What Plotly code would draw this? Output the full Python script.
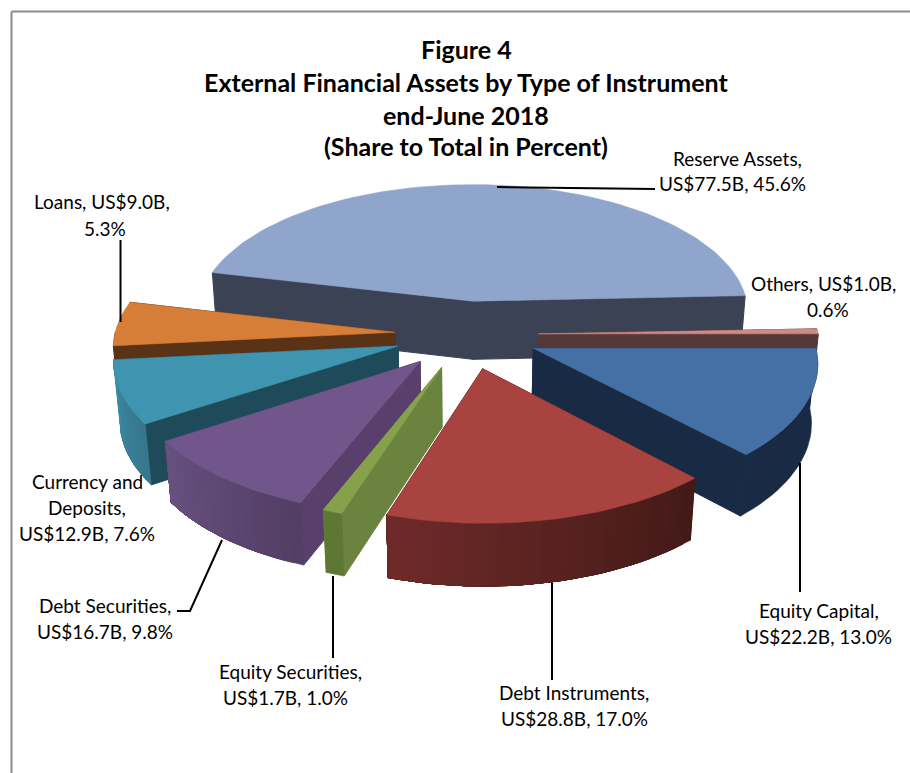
import numpy as np
import plotly.graph_objects as go

# Instrument shares, in drawing (clockwise) order starting from the east edge
names = ["Others", "Equity Capital", "Debt Instruments", "Equity Securities",
         "Debt Securities", "Currency and Deposits", "Loans", "Reserve Assets"]
usd_billions = [1.0, 22.2, 28.8, 1.7, 16.7, 12.9, 9.0, 77.5]
shares = [0.6, 13.0, 17.0, 1.0, 9.8, 7.6, 5.3, 45.6]

title_lines = ["Figure 4", "External Financial Assets by Type of Instrument",
               "end-June 2018", "(Share to Total in Percent)"]

top_colors = ["#D08A85", "#4470A6", "#A84340", "#85A24B", "#71568C", "#3F95AF", "#D67D38", "#8FA5CC"]
side_colors = ["#553838", "#192B44", "#4A1C1A", "#6A833F", "#583F6C", "#1F4A59", "#5A3316", "#3B4254"]
rim_start = ["#553838", "#192B44", "#431A18", "#5F7735", "#533E66", "#35778D", "#5A3316", "#3B4254"]
rim_end = ["#553838", "#192B44", "#6E2A28", "#5F7735", "#66507E", "#3F8CA5", "#5A3316", "#3B4254"]

# Back-to-front painting order (indices into the lists above)
paint_order = [7, 0, 1, 6, 5, 4, 3, 2]

# Projection of the exploded pie
CX, CY = 466.5, 334.5
RADIUS = 280.0
EXPLODE = 72.0
TILT = 0.476
FOCAL = 3000.0
THICK = 60.0
START_DEG = -2.16


def project(theta, r, mid, z):
    t, m = np.radians(theta), np.radians(mid)
    x = r * np.cos(t) + EXPLODE * np.cos(m)
    y = r * np.sin(t) + EXPLODE * np.sin(m)
    s = 1.0 / (1.0 - (y - 0.9 * z) / FOCAL)
    return CX + x * s, CY + (y * TILT + z) * s


def hex_mix(a, b, f):
    ca = [int(a[i:i + 2], 16) for i in (1, 3, 5)]
    cb = [int(b[i:i + 2], 16) for i in (1, 3, 5)]
    return "rgb({},{},{})".format(*[round(p + (q - p) * f) for p, q in zip(ca, cb)])


fig = go.Figure()


def add_poly(xs, ys, color, width=0.6):
    fig.add_trace(go.Scatter(x=np.append(xs, xs[0]), y=np.append(ys, ys[0]), mode="lines",
                             fill="toself", fillcolor=color,
                             line=dict(color=color, width=width),
                             hoverinfo="skip", showlegend=False))


edges = START_DEG + 3.6 * np.concatenate([[0], np.cumsum(shares)])

for i in paint_order:
    a0, a1 = edges[i], edges[i + 1]
    mid = (a0 + a1) / 2
    steps = max(2, int((a1 - a0) / 2.0))
    angles = np.linspace(a0, a1, steps + 1)

    # The two cut faces
    ox, oy = project(0.0, 0.0, mid, 0.0)
    obx, oby = project(0.0, 0.0, mid, THICK)
    for edge in (a0, a1):
        rx, ry = project(edge, RADIUS, mid, 0.0)
        bx, by = project(edge, RADIUS, mid, THICK)
        add_poly(np.array([ox, rx, bx, obx]), np.array([oy, ry, by, oby]), side_colors[i], width=1.0)

    # Near-side wall: each band runs on to the slice end so the next one overlaps it
    near = angles[np.sin(np.radians(angles)) >= -1e-9]
    if a0 < 180 < a1:
        near = np.append(near, 180.0)
    if len(near) >= 2:
        flat = rim_start[i] == rim_end[i]
        starts = near[:1] if flat else near[:-1]
        for k, start in enumerate(starts):
            q = near[k:]
            xt, yt = project(q, RADIUS, mid, 0.0)
            xb, yb = project(q[::-1], RADIUS, mid, THICK)
            f = k / max(1, len(starts) - 1)
            add_poly(np.concatenate([xt, xb]), np.concatenate([yt, yb]),
                     hex_mix(rim_start[i], rim_end[i], f))

    # Top face
    tx, ty = project(angles, RADIUS, mid, 0.0)
    add_poly(np.concatenate([[ox], tx]), np.concatenate([[oy], ty]), top_colors[i])

# Leader lines from the label to its slice
leaders = [
    ([497, 655], [187, 189]),
    ([120.5, 120.5], [240, 322]),
    ([800, 800], [463, 592]),
    ([552, 552], [583, 680]),
    ([333, 333], [576, 658]),
    ([222, 190, 177], [540, 611, 611]),
]
for lx, ly in leaders:
    fig.add_trace(go.Scatter(x=lx, y=ly, mode="lines", line=dict(color="#000000", width=2),
                             hoverinfo="skip", showlegend=False))

FONT = "Lato, Carlito, Calibri, sans-serif"
annotations = []


def put_text(text, x, y, size, bold=False):
    annotations.append(dict(text=f"<b>{text}</b>" if bold else text, x=x, y=y, xref="x", yref="y",
                            xanchor="center", yanchor="middle", showarrow=False,
                            font=dict(family=FONT, size=size, color="#000000")))


for line, y in zip(title_lines, [49, 82, 115, 146]):
    put_text(line, 466, y, 25, bold=True)


def money(i):
    return f"US${usd_billions[i]:.1f}B"


def pct(i):
    return f"{shares[i]:.1f}%"


label_rows = [
    (f"{names[7]},", 737, 158), (f"{money(7)}, {pct(7)}", 732, 183),
    (f"{names[0]}, {money(0)},", 823, 283), (pct(0), 828, 309),
    (f"{names[1]},", 819, 610), (f"{money(1)}, {pct(1)}", 818, 636),
    (f"{names[2]},", 574, 692), (f"{money(2)}, {pct(2)}", 574, 718),
    (f"{names[3]},", 290, 671), (f"{money(3)}, {pct(3)}", 285, 697),
    (f"{names[4]},", 105, 605), (f"{money(4)}, {pct(4)}", 105, 631),
    ("Currency and", 87, 481), ("Deposits,", 87, 507), (f"{money(5)}, {pct(5)}", 87, 533),
    (f"{names[6]}, {money(6)},", 102, 201), (pct(6), 105, 228),
]
for text, x, y in label_rows:
    put_text(text, x, y, 19)

# Chart frame, open at the bottom and right where the page crops it
frame = [dict(type="line", xref="x", yref="y", x0=11.5, x1=910, y0=11.5, y1=11.5,
              line=dict(color="#8C8C8C", width=2)),
         dict(type="line", xref="x", yref="y", x0=11.5, x1=11.5, y0=11.5, y1=773,
              line=dict(color="#8C8C8C", width=2))]

fig.update_layout(
    width=910, height=773, margin=dict(l=0, r=0, t=0, b=0),
    paper_bgcolor="#FFFFFF", plot_bgcolor="#FFFFFF", showlegend=False,
    xaxis=dict(range=[0, 910], visible=False, fixedrange=True),
    yaxis=dict(range=[773, 0], visible=False, fixedrange=True),
    annotations=annotations, shapes=frame,
)

fig.write_html("out.html", config={"displayModeBar": False})
